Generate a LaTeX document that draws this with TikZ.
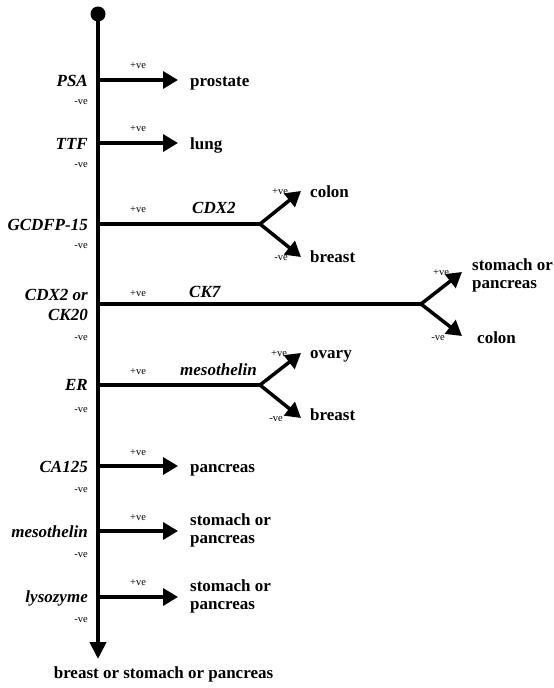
\documentclass[tikz,border=0pt]{standalone}
\usepackage{fontspec}
\setmainfont{Liberation Serif}
\usetikzlibrary{arrows.meta}
\begin{document}
\begin{tikzpicture}[x=1pt,y=-1pt,
  lab/.style={font=\fontsize{17}{20}\selectfont\bfseries\itshape, anchor=base east, inner sep=0pt, align=right},
  mid/.style={font=\fontsize{17}{18}\selectfont\bfseries\itshape, anchor=base west, inner sep=0pt},
  tgt/.style={font=\fontsize{17}{18}\selectfont\bfseries, anchor=base west, inner sep=0pt, align=left},
  sgn/.style={font=\fontsize{10.5}{11}\selectfont, anchor=base, inner sep=0pt},
  arr/.style={line width=3.5pt, -{Triangle[length=15pt,width=17pt]}},
  seg/.style={line width=3.5pt},
]
\useasboundingbox (0,0) rectangle (554,688);
% main trunk
\coordinate (top) at (98,14);
\coordinate (bot) at (98,659);
\fill (top) circle (7.5pt);
\draw[line width=4pt, -{Triangle[length=17pt,width=16pt]}] (top) -- (bot);
\node[tgt, anchor=base] (final) at (163.5,678) {breast or stomach or pancreas};

% row 1 PSA
\coordinate (j1) at (98,80); \coordinate (e1) at (178,80);
\draw[arr] (j1) -- (e1);
\node[lab] (l1) at (88,86) {PSA};
\node[sgn] (p1) at (138,68) {+ve};
\node[sgn] (n1) at (81,104) {-ve};
\node[tgt] (t1) at (190,86) {prostate};

% row 2 TTF
\coordinate (j2) at (98,143); \coordinate (e2) at (178,143);
\draw[arr] (j2) -- (e2);
\node[lab] (l2) at (88,149) {TTF};
\node[sgn] (p2) at (138,131) {+ve};
\node[sgn] (n2) at (81,167) {-ve};
\node[tgt] (t2) at (190,149) {lung};

% row 3 GCDFP-15
\coordinate (j3) at (98,224); \coordinate (b3) at (260,224);
\coordinate (u3) at (301,191); \coordinate (d3) at (301,257);
\draw[seg] (j3) -- (b3);
\draw[arr] (b3) -- (u3);
\draw[arr] (b3) -- (d3);
\node[lab] (l3) at (88,230) {GCDFP-15};
\node[sgn] (p3) at (138,212) {+ve};
\node[sgn] (n3) at (81,248) {-ve};
\node[mid] (m3) at (192,213) {CDX2};
\node[sgn] (pu3) at (280,194) {+ve};
\node[sgn] (nd3) at (281,260) {-ve};
\node[tgt] (tu3) at (310,197) {colon};
\node[tgt] (td3) at (310,262) {breast};

% row 4 CDX2 or CK20
\coordinate (j4) at (98,304); \coordinate (b4) at (421,304);
\coordinate (u4) at (462,272); \coordinate (d4) at (462,336);
\draw[seg] (j4) -- (b4);
\draw[arr] (b4) -- (u4);
\draw[arr] (b4) -- (d4);
\node[lab] (l4) at (88,320) {CDX2 or\\CK20};
\node[sgn] (p4) at (138,296) {+ve};
\node[sgn] (n4) at (81,340) {-ve};
\node[mid] (m4) at (189,297) {CK7};
\node[sgn] (pu4) at (441,275) {+ve};
\node[sgn] (nd4) at (438,340) {-ve};
\node[tgt] (tu4) at (472,288) {stomach or\\pancreas};
\node[tgt] (td4) at (477,343) {colon};

% row 5 ER
\coordinate (j5) at (98,385); \coordinate (b5) at (260,385);
\coordinate (u5) at (301,353); \coordinate (d5) at (301,418);
\draw[seg] (j5) -- (b5);
\draw[arr] (b5) -- (u5);
\draw[arr] (b5) -- (d5);
\node[lab] (l5) at (88,390) {ER};
\node[sgn] (p5) at (138,374) {+ve};
\node[sgn] (n5) at (81,412) {-ve};
\node[mid] (m5) at (180,375) {mesothelin};
\node[sgn] (pu5) at (279,356) {+ve};
\node[sgn] (nd5) at (276,421) {-ve};
\node[tgt] (tu5) at (310,358) {ovary};
\node[tgt] (td5) at (310,420) {breast};

% row 6 CA125
\coordinate (j6) at (98,466); \coordinate (e6) at (178,466);
\draw[arr] (j6) -- (e6);
\node[lab] (l6) at (88,472) {CA125};
\node[sgn] (p6) at (138,455) {+ve};
\node[sgn] (n6) at (81,492) {-ve};
\node[tgt] (t6) at (190,472) {pancreas};

% row 7 mesothelin
\coordinate (j7) at (98,531); \coordinate (e7) at (178,531);
\draw[arr] (j7) -- (e7);
\node[lab] (l7) at (88,537) {mesothelin};
\node[sgn] (p7) at (138,520) {+ve};
\node[sgn] (n7) at (81,557) {-ve};
\node[tgt] (t7) at (190,543) {stomach or\\pancreas};

% row 8 lysozyme
\coordinate (j8) at (98,597); \coordinate (e8) at (178,597);
\draw[arr] (j8) -- (e8);
\node[lab] (l8) at (88,602) {lysozyme};
\node[sgn] (p8) at (138,585) {+ve};
\node[sgn] (n8) at (81,622) {-ve};
\node[tgt] (t8) at (190,609) {stomach or\\pancreas};
\end{tikzpicture}
\end{document}
